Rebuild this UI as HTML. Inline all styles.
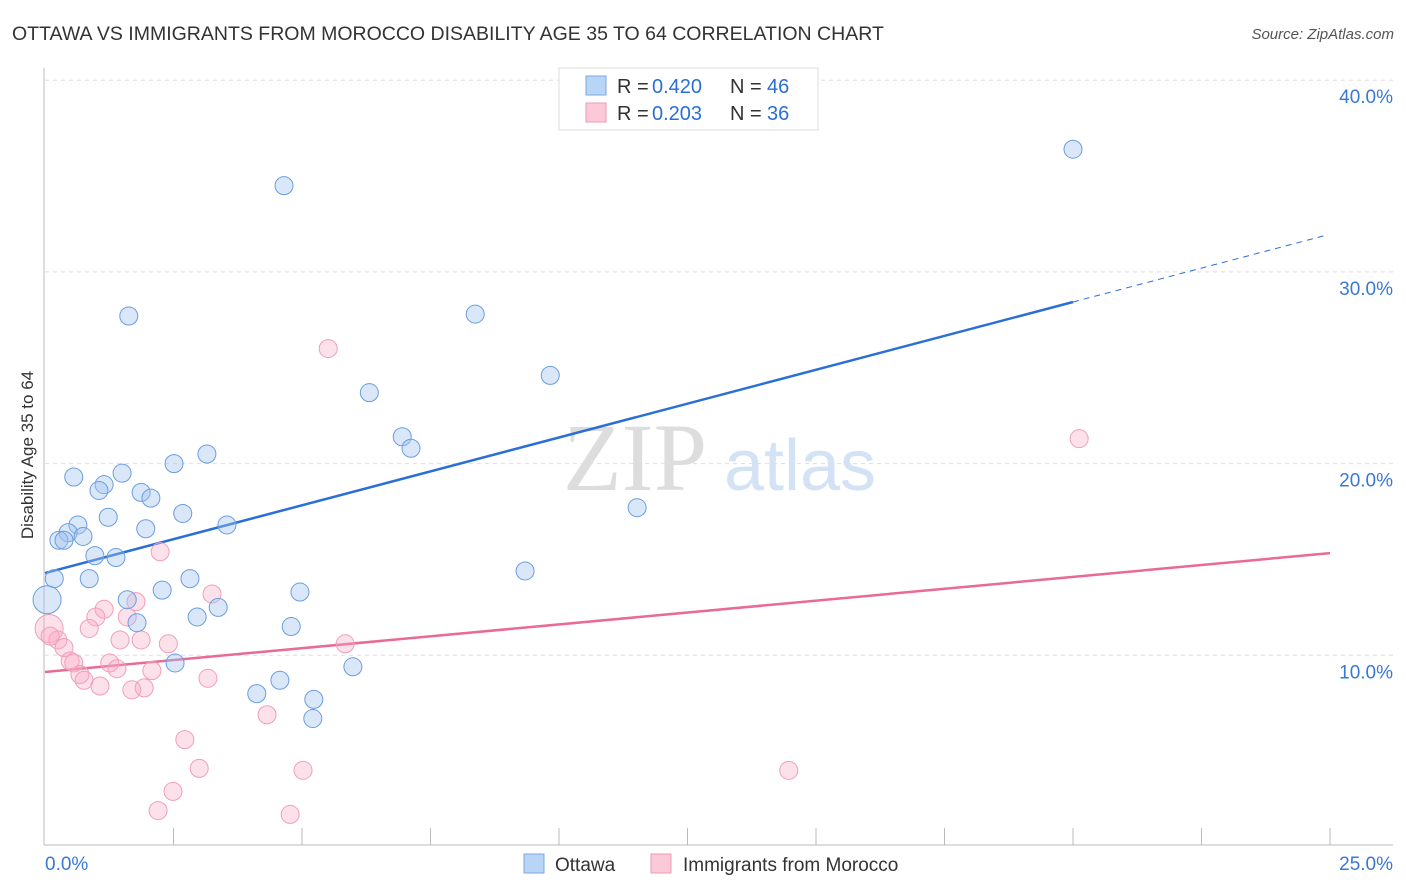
<!DOCTYPE html>
<html><head><meta charset="utf-8"><style>
body{margin:0;background:#fff;font-family:"Liberation Sans",sans-serif;}
svg{display:block}
</style></head><body>
<svg id="c" width="1406" height="892" xmlns="http://www.w3.org/2000/svg">
<text x="12" y="40" font-size="19.5" fill="#333">OTTAWA VS IMMIGRANTS FROM MOROCCO DISABILITY AGE 35 TO 64 CORRELATION CHART</text>
<text x="1394" y="39" font-size="15" fill="#555" font-style="italic" text-anchor="end">Source: ZipAtlas.com</text>
<text transform="translate(33,455) rotate(-90)" font-size="17" fill="#333" text-anchor="middle">Disability Age 35 to 64</text>
<g><text x="635" y="490" font-size="96" fill="#ddd" font-family="Liberation Serif,serif" text-anchor="middle">ZIP</text><text x="800" y="490" font-size="72" fill="#d3e3f5" text-anchor="middle">atlas</text></g>
<g id="grid"></g><g id="axes"></g><g id="lines"></g><g id="pts"></g>
<g>
<rect x="559" y="68" width="259" height="62" fill="#fff" stroke="#ddd"/>
<rect x="586" y="76" width="20" height="19" fill="#b9d5f5" stroke="#7aa8e0"/>
<rect x="586" y="103" width="20" height="19" fill="#fcc9d8" stroke="#ee9ab3"/>
<text x="617" y="93" font-size="20" fill="#333">R =</text><text x="652" y="93" font-size="20" fill="#2a6fd6">0.420</text>
<text x="730" y="93" font-size="20" fill="#333">N =</text><text x="767" y="93" font-size="20" fill="#2a6fd6">46</text>
<text x="617" y="120" font-size="20" fill="#333">R =</text><text x="652" y="120" font-size="20" fill="#2a6fd6">0.203</text>
<text x="730" y="120" font-size="20" fill="#333">N =</text><text x="767" y="120" font-size="20" fill="#2a6fd6">36</text>
</g>
<g>
<rect x="524" y="854" width="20" height="19" fill="#b9d5f5" stroke="#7aa8e0"/>
<text x="555" y="871" font-size="19" fill="#333">Ottawa</text>
<rect x="651" y="854" width="20" height="19" fill="#fcc9d8" stroke="#ee9ab3"/>
<text x="683" y="871" font-size="19" fill="#333">Immigrants from Morocco</text>
</g>
</svg>
<script>
const yTicks=[10,20,30,40];
const yTickLabels=["10.0%","20.0%","30.0%","40.0%"];
const xTickLabels=["0.0%","25.0%"];
const blueX=[20,4.65,1.63,8.37,9.83,6.31,6.95,7.12,3.15,2.51,1.5,0.56,1.15,1.05,1.87,2.06,2.68,1.23,3.54,0.64,1.96,0.45,0.74,0.27,0.37,0.97,1.38,11.52,9.34,0.18,0.86,2.82,2.28,4.96,0.04,1.6,3.37,1.79,2.96,4.79,2.53,5.99,4.12,4.57,5.23,5.21];
const blueY=[36.4,34.5,27.7,27.8,24.6,23.7,21.4,20.8,20.5,20.0,19.5,19.3,18.9,18.6,18.5,18.2,17.4,17.2,16.8,16.8,16.6,16.4,16.2,16.0,16.0,15.2,15.1,17.7,14.4,14.0,14.0,14.0,13.4,13.3,12.9,12.9,12.5,11.7,12.0,11.5,9.6,9.4,8.0,8.7,7.7,6.7];
const pinkX=[5.51,20.12,2.24,3.25,1.77,1.15,0.99,1.6,0.86,0.08,1.46,1.87,2.4,5.84,0.25,0.37,0.49,0.56,1.26,1.4,2.08,0.68,0.76,1.07,3.17,1.93,1.69,4.32,2.72,3.0,5.02,14.47,2.49,2.2,4.77,0.1];
const pinkY=[26.0,21.3,15.4,13.2,12.8,12.4,12.0,12.0,11.4,11.4,10.8,10.8,10.6,10.6,10.8,10.4,9.7,9.6,9.6,9.3,9.2,9.0,8.7,8.4,8.8,8.3,8.2,6.9,5.6,4.1,4.0,4.0,2.9,1.9,1.7,11.0];
const blueBig=[34], pinkBig=[9];
const X0=45,X1=1330,Y0=847,PY=19.17;
const sx=v=>X0+v/25*(X1-X0), sy=v=>Y0-v*PY;
const NS="http://www.w3.org/2000/svg";
function mk(parent,tag,attrs){const e=document.createElementNS(NS,tag);for(const k in attrs)e.setAttribute(k,attrs[k]);document.getElementById(parent).appendChild(e);return e;}
yTicks.forEach((t,i)=>{
 const g=mk('grid','line',{x1:45,x2:1393,y1:sy(t),y2:sy(t),stroke:'#ddd','stroke-dasharray':'4,4'});
 
 
 const l=mk('grid','text',{x:1393,y:sy(t)+23,'font-size':19,fill:'#3a78d6','text-anchor':'end'});
 l.textContent=yTickLabels[i];
 
 
});
const ax=mk('axes','line',{x1:44,x2:44,y1:68,y2:845,stroke:'#bbb'});


const bx=mk('axes','line',{x1:44,x2:1393,y1:845,y2:845,stroke:'#bbb'});


for(let i=1;i<=10;i++){const t=mk('axes','line',{x1:sx(i*2.5),x2:sx(i*2.5),y1:828,y2:845,stroke:'#bbb'});
 
 }
[[0,'start',45],[25,'end',1393]].forEach((d,i)=>{const t=mk('axes','text',{x:d[2],y:870,'font-size':19,fill:'#3a78d6','text-anchor':d[1]});t.textContent=xTickLabels[i];
 
 });
function pts(xs,ys,big,fill,stroke,name){xs.forEach((x,i)=>{const c=mk('pts','circle',{cx:sx(x),cy:sy(ys[i]),r:big.includes(i)?14:9,fill:fill,stroke:stroke,'stroke-width':1});
 
 });}
pts(pinkX,pinkY,pinkBig,'rgba(248,170,195,0.35)','#ef9fb7','point-morocco');
pts(blueX,blueY,blueBig,'rgba(160,196,240,0.4)','#6a9de0','point-ottawa');
const bI=14.29,bS=0.707,pI=9.13,pS=0.248;
const l1=mk('lines','line',{x1:sx(0),y1:sy(bI),x2:sx(20),y2:sy(bI+bS*20),stroke:'#2a6fd6','stroke-width':2.5});


const l2=mk('lines','line',{x1:sx(20),y1:sy(bI+bS*20),x2:sx(24.9),y2:sy(bI+bS*24.9),stroke:'#2a6fd6','stroke-width':1,'stroke-dasharray':'6,5'});


const l3=mk('lines','line',{x1:sx(0),y1:sy(pI),x2:sx(25),y2:sy(pI+pS*25),stroke:'#e86a95','stroke-width':2.5});


</script>
</body></html>
